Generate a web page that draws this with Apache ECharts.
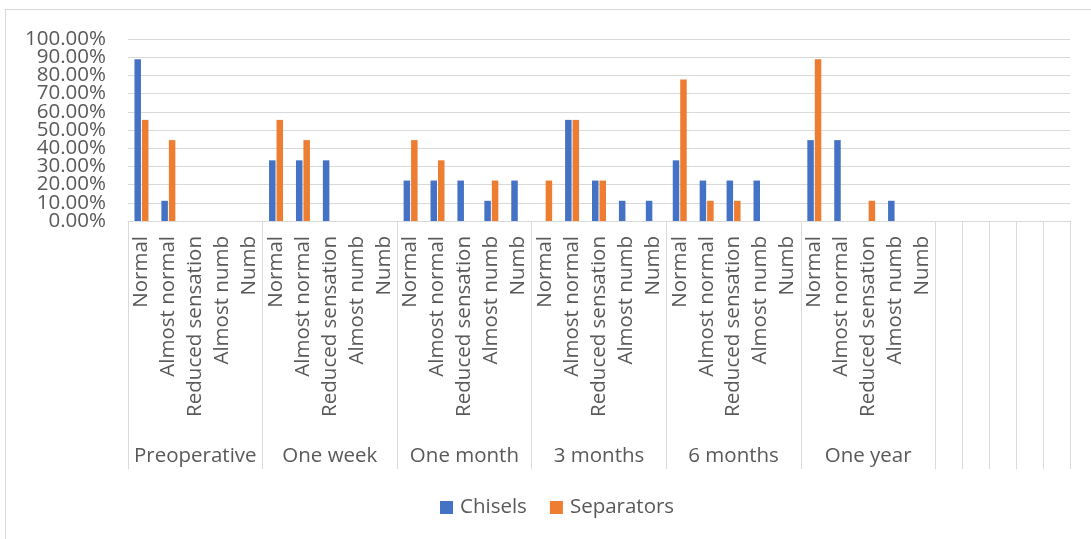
<!DOCTYPE html>
<html>
<head>
<meta charset="utf-8">
<script src="https://cdn.jsdelivr.net/npm/echarts@6/dist/echarts.min.js"></script>
<style>
  html, body { margin: 0; padding: 0; background: #fff; overflow: hidden; }
  #frame { position: absolute; left: 5px; top: 9px; width: 1200px; height: 600px; border: 1px solid #d9d9d9; box-sizing: border-box; }
  #chart { position: absolute; left: 0; top: 0; width: 1091px; height: 539px; }
</style>
</head>
<body>
<div id="frame"></div>
<div id="chart"></div>
<script>
const groups = ["Preoperative", "One week", "One month", "3 months", "6 months", "One year"];
const subCategories = ["Normal", "Almost normal", "Reduced sensation", "Almost numb", "Numb"];
const emptyCellCount = 5;
const chisels = [
  88.89, 11.11, 0, 0, 0,
  33.33, 33.33, 33.33, 0, 0,
  22.22, 22.22, 22.22, 11.11, 22.22,
  0, 55.56, 22.22, 11.11, 11.11,
  33.33, 22.22, 22.22, 22.22, 0,
  44.44, 44.44, 0, 11.11, 0
];
const separators = [
  55.56, 44.44, 0, 0, 0,
  55.56, 44.44, 0, 0, 0,
  44.44, 33.33, 0, 22.22, 0,
  22.22, 55.56, 22.22, 0, 0,
  77.78, 11.11, 11.11, 0, 0,
  88.89, 0, 11.11, 0, 0
];
const yTicksEven = [0, 20, 40, 60, 80, 100];
const yTicksOdd = [10, 30, 50, 70, 90];

// Build category lists
const subLabels = [];
const groupLabels = [];
const boundaryIdx = new Set();
groups.forEach((g, gi) => {
  subCategories.forEach((s, si) => {
    if (si === 0) boundaryIdx.add(subLabels.length);
    subLabels.push(s);
    groupLabels.push(si === 2 ? g : '');
  });
});
for (let i = 0; i < emptyCellCount; i++) {
  boundaryIdx.add(subLabels.length);
  subLabels.push('');
  groupLabels.push('');
}
const pad = arr => arr.concat(new Array(emptyCellCount).fill(null));

const FONT = 'Open Sans';
const grey = '#595959';
const lineGrey = '#d9d9d9';

const yLabelStyle = {
  margin: 22,
  fontFamily: FONT,
  fontSize: 20.5,
  color: grey
};

const chart = echarts.init(document.getElementById('chart'), null, { renderer: 'canvas' });
chart.setOption({
  backgroundColor: 'transparent',
  animation: false,
  grid: { left: 128, right: 21, top: 39, bottom: 318, containLabel: false },
  legend: {
    bottom: 16,
    left: 435,
    itemWidth: 13,
    itemHeight: 13,
    itemGap: 23,
    icon: 'rect',
    textStyle: { fontFamily: FONT, fontSize: 20.5, color: grey, padding: [0, 0, 0, 2] },
    data: ['Chisels', 'Separators']
  },
  xAxis: [
    {
      type: 'category',
      data: subLabels,
      position: 'bottom',
      axisLine: { show: true, lineStyle: { color: lineGrey, width: 1 } },
      axisTick: {
        show: true,
        length: 248,
        interval: (idx) => boundaryIdx.has(idx),
        lineStyle: { color: lineGrey, width: 1 }
      },
      axisLabel: {
        interval: 0,
        rotate: 90,
        margin: 15,
        hideOverlap: false,
        fontFamily: FONT,
        fontSize: 20.5,
        lineHeight: 20,
        color: grey
      }
    },
    {
      type: 'category',
      data: groupLabels,
      position: 'bottom',
      axisLine: { show: false },
      axisTick: { show: false },
      axisLabel: {
        interval: 0,
        margin: 225,
        hideOverlap: false,
        fontFamily: FONT,
        fontSize: 20.5,
        color: grey
      }
    }
  ],
  yAxis: [
    {
      type: 'value',
      position: 'left',
      min: 0,
      max: 100,
      interval: 20,
      axisLine: { show: false },
      axisTick: { show: false },
      splitLine: { show: false },
      axisLabel: Object.assign({}, yLabelStyle, {
        showMinLabel: true,
        showMaxLabel: true,
        formatter: v => yTicksEven.includes(v) ? v.toFixed(2) + '%' : ''
      })
    },
    {
      type: 'value',
      position: 'left',
      min: 0,
      max: 100,
      interval: 10,
      axisLine: { show: false },
      axisTick: { show: false },
      splitLine: { show: true, lineStyle: { color: lineGrey, width: 1 } },
      axisLabel: Object.assign({}, yLabelStyle, {
        showMinLabel: false,
        showMaxLabel: false,
        formatter: v => yTicksOdd.includes(v) ? v.toFixed(2) + '%' : ''
      })
    }
  ],
  series: [
    {
      name: 'Chisels',
      type: 'bar',
      xAxisIndex: 0,
      yAxisIndex: 0,
      data: pad(chisels),
      barWidth: 6.5,
      barGap: '15%',
      itemStyle: { color: '#4472C4' }
    },
    {
      name: 'Separators',
      type: 'bar',
      xAxisIndex: 0,
      yAxisIndex: 0,
      data: pad(separators),
      barWidth: 6.5,
      barGap: '15%',
      itemStyle: { color: '#ED7D31' }
    }
  ]
});
</script>
</body>
</html>
